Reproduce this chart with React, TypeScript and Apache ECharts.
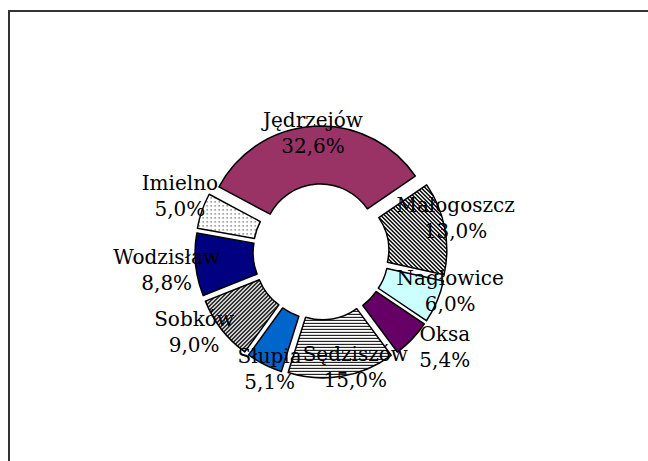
import React, { useEffect, useRef } from 'react';
import * as echarts from 'echarts';

const categories = ['Jędrzejów', 'Małogoszcz', 'Nagłowice', 'Oksa', 'Sędziszów', 'Słupia', 'Sobków', 'Wodzisław', 'Imielno'];
const shares = [32.6, 13.0, 6.0, 5.4, 15.0, 5.1, 9.0, 8.8, 5.0];
const fills = ['#993366', 'diagDown', '#CCFFFF', '#660066', 'hstripe', '#0066CC', 'diagUp', '#000080', 'dots'];
// small label nudges (Excel's own label placement), in px
const labelNudgeX = [0, -15, -7, 32, 10, 8, -18, -7, -12];
const labelNudgeY = [8, -10, -11, 7, -11, 3, 2, 5, -14];

const CX = 321;
const CY = 252;
const R_IN = 57;
const R_OUT = 115;
const START = 151.9;

function makePattern(kind: string): any {
  const size = kind === 'hstripe' ? 3 : 4;
  const c = document.createElement('canvas');
  c.width = size;
  c.height = size;
  const ctx = c.getContext('2d')!;
  ctx.fillStyle = '#ffffff';
  ctx.fillRect(0, 0, size, size);
  ctx.fillStyle = '#000000';
  for (let y = 0; y < size; y++) {
    for (let x = 0; x < size; x++) {
      let on = false;
      if (kind === 'diagDown') on = ((x - y + 8) % 4) < 2;
      else if (kind === 'diagUp') on = ((x + y) % 4) < 2;
      else if (kind === 'hstripe') on = y === 0;
      else if (kind === 'dots') on = x === 1 && y === 1;
      if (on) ctx.fillRect(x, y, 1, 1);
    }
  }
  return { image: c.toDataURL(), repeat: 'repeat', imageWidth: size, imageHeight: size };
}

function fmt(v: number) {
  return v.toFixed(1).replace('.', ',') + '%';
}

export default function App() {
  const ref = useRef<HTMLDivElement>(null);
  useEffect(() => {
    if (!ref.current) return;
    const chart = echarts.init(ref.current, null, { renderer: 'svg' });
    const total = shares.reduce((a, b) => a + b, 0);
    const mids: number[] = [];
    let acc = 0;
    shares.forEach((v) => {
      const a0 = 90 - START + (acc / total) * 360;
      acc += v;
      const a1 = 90 - START + (acc / total) * 360;
      mids.push(((a0 + a1) / 2) * Math.PI / 180);
    });
    const data = categories.map((name, i) => {
      const f = fills[i];
      const color = f.startsWith('#') ? f : makePattern(f);
      const itemStyle = { color, borderColor: '#000', borderWidth: 1.5 };
      return { name, value: shares[i], selected: true, itemStyle, select: { itemStyle } };
    });
    const labelData = categories.map((name, i) => ({ name, value: shares[i] }));
    const common = {
      type: 'pie',
      center: [CX, CY],
      radius: [R_IN, R_OUT],
      startAngle: START,
      clockwise: true,
      emphasis: { disabled: true },
      avoidLabelOverlap: false,
      labelLine: { show: false },
    };
    chart.setOption({
      animation: false,
      graphic: [
        {
          type: 'rect',
          shape: { x: 9, y: 11, width: 700, height: 500 },
          style: { fill: 'none', stroke: '#333', lineWidth: 2 },
          silent: true,
        },
      ],
      series: [
        {
          ...common,
          selectedMode: 'multiple',
          selectedOffset: 11,
          label: { show: false },
          data,
        },
        {
          ...common,
          silent: true,
          selectedMode: false,
          itemStyle: { color: 'rgba(0,0,0,0)', borderWidth: 0 },
          label: {
            show: true,
            position: 'inside',
            formatter: (p: any) => `${p.name}\n${fmt(p.value)}`,
            fontFamily: 'DejaVu Serif',
            fontSize: 20,
            lineHeight: 26,
            color: '#000',
          },
          labelLayout: (p: any) => {
            const i = p.dataIndex;
            const a = mids[i];
            const ux = Math.sin(a);
            const uy = -Math.cos(a);
            const hw = p.labelRect.width / 2;
            const hh = p.labelRect.height / 2;
            const rho = 108;
            const k = 0.75;
            return {
              x: CX + ux * rho + ux * hw * k + labelNudgeX[i],
              y: CY + uy * rho + uy * hh * k + labelNudgeY[i],
              align: 'center',
              verticalAlign: 'middle',
            };
          },
          data: labelData,
        },
      ],
    });
    return () => chart.dispose();
  }, []);
  return <div ref={ref} style={{ position: 'absolute', left: 0, top: 0, width: 648, height: 461, background: '#fff' }} />;
}
